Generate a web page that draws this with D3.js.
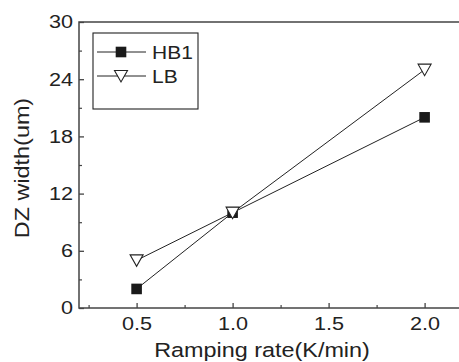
<!DOCTYPE html>
<html><head><meta charset="utf-8">
<script src="https://cdn.jsdelivr.net/npm/d3@7"></script>
<style>body{margin:0;background:#fff;}svg{display:block;font-family:"Liberation Sans",Arial,Helvetica,sans-serif;}</style>
</head><body><svg id="c" width="459" height="362"></svg>
<script>
const xValues = [0.5, 1.0, 2.0];
const hb1 = [2, 10, 20];
const lb = [5, 10, 25];
const seriesNames = ["HB1", "LB"];
const xTicks = [0.5, 1.0, 1.5, 2.0];
const xMinor = [0.25, 0.75, 1.25, 1.75, 2.25];
const yTicks = [0, 6, 12, 18, 24, 30];
const yMinor = [3, 9, 15, 21, 27];

const svg = d3.select("#c");
const L = 79, T = 22, B = 308, R = 463;
const x = d3.scaleLinear().domain([0.2, 2.2]).range([L, R]);
const y = d3.scaleLinear().domain([0, 30]).range([B, T]);
const axisCol = "#444", ink = "#222";
const SX = 1.2;

function stretch(sel, sx) {
  sel.each(function () {
    const t = d3.select(this);
    const tx = +t.attr("x") || 0, ty = +t.attr("y") || 0;
    t.attr("x", 0).attr("y", 0).attr("transform", `translate(${tx},${ty}) scale(${sx},1)`);
  });
}

// frame
svg.append("rect").attr("x", L).attr("y", T).attr("width", R - L).attr("height", B - T)
  .attr("fill", "none").attr("stroke", axisCol).attr("stroke-width", 1.5);

// y axis ticks
const ya = svg.append("g").attr("transform", `translate(${L},0)`)
  .call(d3.axisLeft(y).tickValues(yTicks).tickSize(-5).tickPadding(6).tickFormat(d3.format("d")));
ya.select(".domain").remove();
ya.selectAll("line").attr("stroke", axisCol).attr("stroke-width", 1.3);
ya.selectAll("text").attr("font-size", 18.5).attr("fill", ink).attr("font-family", "Liberation Sans, Arial, sans-serif");
stretch(ya.selectAll("text"), 1.17);
const yam = svg.append("g").attr("transform", `translate(${L},0)`)
  .call(d3.axisLeft(y).tickValues(yMinor).tickSize(-3).tickFormat(""));
yam.select(".domain").remove();
yam.selectAll("line").attr("stroke", axisCol).attr("stroke-width", 1.2);

// x axis ticks
const xa = svg.append("g").attr("transform", `translate(0,${B})`)
  .call(d3.axisBottom(x).tickValues(xTicks).tickSize(-5).tickPadding(9).tickFormat(d3.format(".1f")));
xa.select(".domain").remove();
xa.selectAll("line").attr("stroke", axisCol).attr("stroke-width", 1.3);
xa.selectAll("text").attr("font-size", 18.5).attr("fill", ink).attr("font-family", "Liberation Sans, Arial, sans-serif");
stretch(xa.selectAll("text"), 1.17);
const xam = svg.append("g").attr("transform", `translate(0,${B})`)
  .call(d3.axisBottom(x).tickValues(xMinor).tickSize(-3).tickFormat(""));
xam.select(".domain").remove();
xam.selectAll("line").attr("stroke", axisCol).attr("stroke-width", 1.2);

// titles
svg.append("text").attr("transform", `translate(262,357) scale(${SX},1)`).attr("text-anchor", "middle")
  .attr("font-size", 19.5).attr("fill", ink).text("Ramping rate(K/min)");
svg.append("text").attr("transform", `translate(29,168) rotate(-90) scale(${SX},1)`).attr("text-anchor", "middle")
  .attr("font-size", 19.5).attr("fill", ink).text("DZ width(um)");

// lines
const line = d3.line().x((d, i) => x(xValues[i])).y(d => y(d));
svg.append("path").datum(hb1).attr("d", line).attr("fill", "none").attr("stroke", ink).attr("stroke-width", 1);
svg.append("path").datum(lb).attr("d", line).attr("fill", "none").attr("stroke", ink).attr("stroke-width", 1);

const tri = (cx, cy) => `M${cx - 6.5},${cy - 5.5}L${cx + 6.5},${cy - 5.5}L${cx},${cy + 6}Z`;
// markers
svg.selectAll(".sq").data(hb1).enter().append("rect")
  .attr("x", (d, i) => x(xValues[i]) - 5.3).attr("y", d => y(d) - 5.3)
  .attr("width", 10.6).attr("height", 10.6).attr("fill", "#1a1a1a");
svg.selectAll(".tr").data(lb).enter().append("path")
  .attr("d", (d, i) => tri(x(xValues[i]), y(d)))
  .attr("fill", "#fff").attr("stroke", ink).attr("stroke-width", 1.1);

// legend
svg.append("rect").attr("x", 93).attr("y", 33).attr("width", 105).attr("height", 76)
  .attr("fill", "#fff").attr("stroke", ink).attr("stroke-width", 1.1);
const legY = [52, 76];
seriesNames.forEach((n, i) => {
  svg.append("line").attr("x1", 97).attr("x2", 146).attr("y1", legY[i]).attr("y2", legY[i])
    .attr("stroke", ink).attr("stroke-width", 1);
  if (i === 0) {
    svg.append("rect").attr("x", 121 - 5.3).attr("y", legY[i] - 5.3).attr("width", 10.6).attr("height", 10.6).attr("fill", "#1a1a1a");
  } else {
    svg.append("path").attr("d", tri(121, legY[i])).attr("fill", "#fff").attr("stroke", ink).attr("stroke-width", 1.1);
  }
  svg.append("text").attr("transform", `translate(152,${legY[i] + 6.5}) scale(1.2,1)`)
    .attr("font-size", 17.5).attr("fill", ink).text(n);
});
</script></body></html>
